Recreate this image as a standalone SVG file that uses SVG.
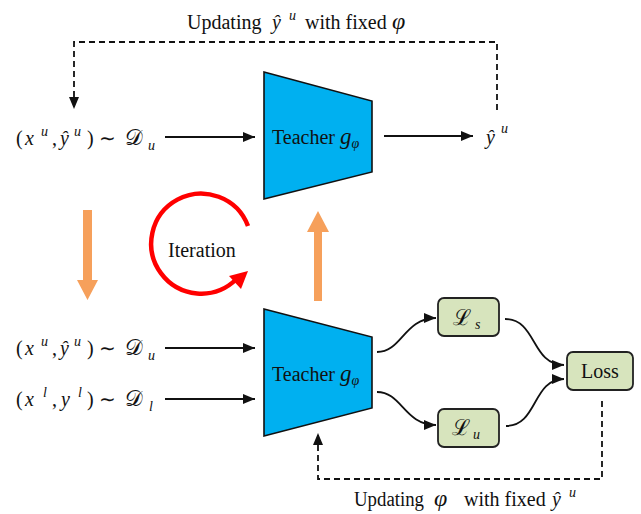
<svg xmlns="http://www.w3.org/2000/svg" width="641" height="514" viewBox="0 0 641 514">
  <defs>
    <style>
      .t { font-family: "Liberation Serif", "Times New Roman", serif; font-size: 20px; fill: #111; }
      .m { font-style: italic; }
      .phi { font-style: italic; font-size: 24px; }
      .cal { font-family: "DejaVu Serif", "Liberation Serif", serif; font-style: normal; font-size: 22px; }
      .sm { font-size: 14px; }
      .ln { fill: none; stroke: #111; stroke-width: 1.8; }
      .dash { fill: none; stroke: #111; stroke-width: 1.8; stroke-dasharray: 6 4; }
      .trap { fill: #00B0F0; stroke: #111; stroke-width: 1.6; }
      .box { fill: #D7E4BD; stroke: #222; stroke-width: 1.8; }
      .orange { fill: #F6A05B; }
    </style>
    <marker id="ah" viewBox="0 0 12 10" refX="12" refY="5" markerWidth="12" markerHeight="10" markerUnits="userSpaceOnUse" orient="auto">
      <path d="M0,0 L12,5 L0,10 z" fill="#111"/>
    </marker>
  </defs>

  <!-- feedback labels -->
  <text class="t"><tspan x="187" y="29">Updating</tspan><tspan class="m" x="272" y="29">ŷ</tspan><tspan class="m sm" x="289" y="20">u</tspan><tspan x="305" y="29">with fixed</tspan><tspan class="phi" x="392" y="29">φ</tspan></text>
  <text class="t"><tspan x="354" y="506" textLength="70" lengthAdjust="spacingAndGlyphs">Updating</tspan><tspan class="phi" x="434" y="506">φ</tspan><tspan x="464" y="506">with fixed</tspan><tspan class="m" x="552" y="506">ŷ</tspan><tspan class="m sm" x="569" y="497">u</tspan></text>

  <!-- top row: unlabeled input -->
  <g id="input-top">
    <text class="t"><tspan x="16" y="145">(</tspan><tspan class="m" x="25" y="145">x</tspan><tspan class="m sm" x="41" y="136">u</tspan><tspan x="52" y="145">,</tspan><tspan class="m" x="60" y="145">ŷ</tspan><tspan class="m sm" x="74" y="136">u</tspan><tspan x="87" y="145">)</tspan><tspan x="99" y="145">∼</tspan><tspan class="cal" x="125" y="145">𝒟</tspan><tspan class="m sm" x="148" y="150">u</tspan></text>
  </g>

  <g id="teacher-top">
    <polygon class="trap" points="264,72 372,101 372,172 264,199"/>
    <text class="t" x="272" y="144">Teacher <tspan class="m" font-size="23">g</tspan><tspan class="m sm" y="148">φ</tspan></text>
  </g>

  <g id="pseudo-label">
    <text class="t"><tspan class="m" x="486" y="144">ŷ</tspan><tspan class="m sm" x="501" y="133">u</tspan></text>
  </g>

  <!-- bottom row inputs -->
  <g id="input-unlabeled">
    <text class="t"><tspan x="16" y="355">(</tspan><tspan class="m" x="25" y="355">x</tspan><tspan class="m sm" x="41" y="346">u</tspan><tspan x="52" y="355">,</tspan><tspan class="m" x="60" y="355">ŷ</tspan><tspan class="m sm" x="74" y="346">u</tspan><tspan x="87" y="355">)</tspan><tspan x="99" y="355">∼</tspan><tspan class="cal" x="125" y="355">𝒟</tspan><tspan class="m sm" x="148" y="360">u</tspan></text>
  </g>
  <g id="input-labeled">
    <text class="t"><tspan x="16" y="406">(</tspan><tspan class="m" x="25" y="406">x</tspan><tspan class="m sm" x="43" y="397">l</tspan><tspan x="52" y="406">,</tspan><tspan class="m" x="61" y="406">y</tspan><tspan class="m sm" x="78" y="397">l</tspan><tspan x="87" y="406">)</tspan><tspan x="99" y="406">∼</tspan><tspan class="cal" x="125" y="406">𝒟</tspan><tspan class="m sm" x="149" y="411">l</tspan></text>
  </g>

  <g id="teacher-bottom">
    <polygon class="trap" points="264,309 372,337 372,408 264,436"/>
    <text class="t" x="272" y="381">Teacher <tspan class="m" font-size="23">g</tspan><tspan class="m sm" y="385">φ</tspan></text>
  </g>

  <g id="loss-s">
    <rect class="box" x="438" y="298" width="61" height="38" rx="6"/>
    <text class="t"><tspan class="cal" x="453" y="325">ℒ</tspan><tspan class="m sm" x="475" y="329">s</tspan></text>
  </g>
  <g id="loss-u">
    <rect class="box" x="438" y="409" width="61" height="38" rx="6"/>
    <text class="t"><tspan class="cal" x="452" y="435">ℒ</tspan><tspan class="m sm" x="473" y="439">u</tspan></text>
  </g>
  <g id="loss">
    <rect class="box" x="567" y="352" width="66" height="38" rx="6"/>
    <text class="t" x="600" y="378" text-anchor="middle">Loss</text>
  </g>

  <!-- iteration cycle -->
  <g id="iteration">
    <path d="M248,226 A50 50 0 1 0 236,279.5" fill="none" stroke="#F00" stroke-width="4.5"/>
    <polygon points="248,271 229,276 241,289" fill="#F00"/>
    <text class="t" x="168" y="257">Iteration</text>
  </g>

  <g id="connectors">
    <!-- data flow -->
    <path class="ln" d="M165,137 H255" marker-end="url(#ah)"/>
    <path class="ln" d="M384,136 H473" marker-end="url(#ah)"/>
    <path class="ln" d="M165,348 H255" marker-end="url(#ah)"/>
    <path class="ln" d="M165,399 H255" marker-end="url(#ah)"/>
    <path class="ln" d="M377,352 C402,352 404,318 436,318" marker-end="url(#ah)"/>
    <path class="ln" d="M377,392 C402,392 404,425 436,425" marker-end="url(#ah)"/>
    <path class="ln" d="M505,319 C537,319 531,365 564,365" marker-end="url(#ah)"/>
    <path class="ln" d="M506,426 C538,426 532,379 564,379" marker-end="url(#ah)"/>
    <!-- update loops -->
    <path class="dash" d="M497,110 V42 H74 V109" marker-end="url(#ah)"/>
    <path class="dash" d="M602,401 V479 H318 V433" marker-end="url(#ah)"/>
    <!-- phase arrows -->
    <polygon class="orange" points="83,210 92,210 92,280 98,280 87.5,300 77,280 83,280"/>
    <polygon class="orange" points="314,301 322,301 322,232 329,232 318,211 307,232 314,232"/>
  </g>
</svg>
